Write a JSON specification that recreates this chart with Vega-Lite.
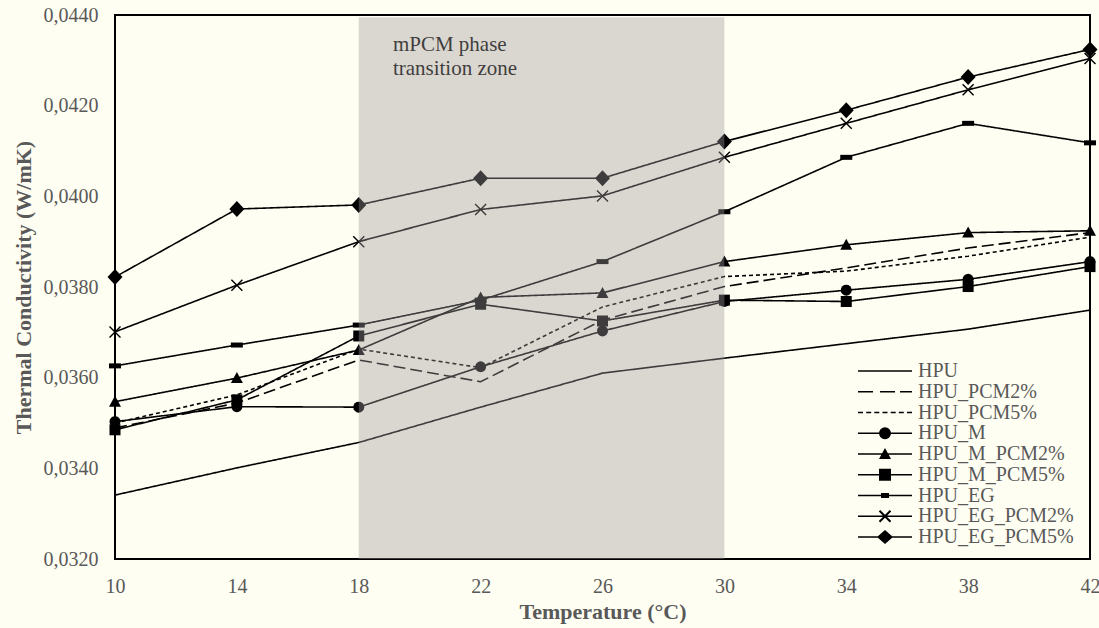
{
  "$schema": "https://vega.github.io/schema/vega-lite/v6.json",
  "width": 975,
  "height": 544,
  "autosize": {"type": "none"},
  "padding": {"left": 115, "top": 15, "right": 9, "bottom": 69},
  "background": "#FFFEF2",
  "config": {
    "view": {"stroke": "black", "strokeWidth": 2},
    "font": "Liberation Serif",
    "axis": {
      "grid": false,
      "ticks": false,
      "domain": false,
      "labelFlush": false,
      "labelOverlap": false,
      "labelFont": "Liberation Serif",
      "labelFontSize": 20,
      "labelColor": "#595959",
      "labelPadding": 17,
      "titleFont": "Liberation Serif",
      "titleFontSize": 22,
      "titleFontWeight": "bold",
      "titleColor": "#595959"
    }
  },
  "datasets": {
    "series": [
      {"series": "HPU", "t": 10, "k": 0.03341}, {"series": "HPU", "t": 14, "k": 0.03401}, {"series": "HPU", "t": 18, "k": 0.03457}, {"series": "HPU", "t": 22, "k": 0.03535}, {"series": "HPU", "t": 26, "k": 0.0361}, {"series": "HPU", "t": 30, "k": 0.03643}, {"series": "HPU", "t": 34, "k": 0.03675}, {"series": "HPU", "t": 38, "k": 0.03707}, {"series": "HPU", "t": 42, "k": 0.03749},
      {"series": "HPU_PCM2%", "t": 10, "k": 0.03489}, {"series": "HPU_PCM2%", "t": 14, "k": 0.03544}, {"series": "HPU_PCM2%", "t": 18, "k": 0.03639}, {"series": "HPU_PCM2%", "t": 22, "k": 0.03591}, {"series": "HPU_PCM2%", "t": 26, "k": 0.03727}, {"series": "HPU_PCM2%", "t": 30, "k": 0.03801}, {"series": "HPU_PCM2%", "t": 34, "k": 0.03842}, {"series": "HPU_PCM2%", "t": 38, "k": 0.03886}, {"series": "HPU_PCM2%", "t": 42, "k": 0.0392},
      {"series": "HPU_PCM5%", "t": 10, "k": 0.035}, {"series": "HPU_PCM5%", "t": 14, "k": 0.03562}, {"series": "HPU_PCM5%", "t": 18, "k": 0.03663}, {"series": "HPU_PCM5%", "t": 22, "k": 0.03622}, {"series": "HPU_PCM5%", "t": 26, "k": 0.03756}, {"series": "HPU_PCM5%", "t": 30, "k": 0.03823}, {"series": "HPU_PCM5%", "t": 34, "k": 0.03835}, {"series": "HPU_PCM5%", "t": 38, "k": 0.03868}, {"series": "HPU_PCM5%", "t": 42, "k": 0.0391},
      {"series": "HPU_M", "t": 10, "k": 0.03503}, {"series": "HPU_M", "t": 14, "k": 0.03536}, {"series": "HPU_M", "t": 18, "k": 0.03535}, {"series": "HPU_M", "t": 22, "k": 0.03624}, {"series": "HPU_M", "t": 26, "k": 0.03703}, {"series": "HPU_M", "t": 30, "k": 0.03768}, {"series": "HPU_M", "t": 34, "k": 0.03793}, {"series": "HPU_M", "t": 38, "k": 0.03817}, {"series": "HPU_M", "t": 42, "k": 0.03856},
      {"series": "HPU_M_PCM2%", "t": 10, "k": 0.03547}, {"series": "HPU_M_PCM2%", "t": 14, "k": 0.03599}, {"series": "HPU_M_PCM2%", "t": 18, "k": 0.03661}, {"series": "HPU_M_PCM2%", "t": 22, "k": 0.03777}, {"series": "HPU_M_PCM2%", "t": 26, "k": 0.03787}, {"series": "HPU_M_PCM2%", "t": 30, "k": 0.03856}, {"series": "HPU_M_PCM2%", "t": 34, "k": 0.03893}, {"series": "HPU_M_PCM2%", "t": 38, "k": 0.0392}, {"series": "HPU_M_PCM2%", "t": 42, "k": 0.03924},
      {"series": "HPU_M_PCM5%", "t": 10, "k": 0.03485}, {"series": "HPU_M_PCM5%", "t": 14, "k": 0.03551}, {"series": "HPU_M_PCM5%", "t": 18, "k": 0.03692}, {"series": "HPU_M_PCM5%", "t": 22, "k": 0.03762}, {"series": "HPU_M_PCM5%", "t": 26, "k": 0.03725}, {"series": "HPU_M_PCM5%", "t": 30, "k": 0.03771}, {"series": "HPU_M_PCM5%", "t": 34, "k": 0.03768}, {"series": "HPU_M_PCM5%", "t": 38, "k": 0.03801}, {"series": "HPU_M_PCM5%", "t": 42, "k": 0.03845},
      {"series": "HPU_EG", "t": 10, "k": 0.03626}, {"series": "HPU_EG", "t": 14, "k": 0.03672}, {"series": "HPU_EG", "t": 18, "k": 0.03716}, {"series": "HPU_EG", "t": 22, "k": 0.03771}, {"series": "HPU_EG", "t": 26, "k": 0.03856}, {"series": "HPU_EG", "t": 30, "k": 0.03966}, {"series": "HPU_EG", "t": 34, "k": 0.04086}, {"series": "HPU_EG", "t": 38, "k": 0.04161}, {"series": "HPU_EG", "t": 42, "k": 0.04118},
      {"series": "HPU_EG_PCM2%", "t": 10, "k": 0.03701}, {"series": "HPU_EG_PCM2%", "t": 14, "k": 0.03804}, {"series": "HPU_EG_PCM2%", "t": 18, "k": 0.039}, {"series": "HPU_EG_PCM2%", "t": 22, "k": 0.03971}, {"series": "HPU_EG_PCM2%", "t": 26, "k": 0.04001}, {"series": "HPU_EG_PCM2%", "t": 30, "k": 0.04086}, {"series": "HPU_EG_PCM2%", "t": 34, "k": 0.04161}, {"series": "HPU_EG_PCM2%", "t": 38, "k": 0.04235}, {"series": "HPU_EG_PCM2%", "t": 42, "k": 0.04304},
      {"series": "HPU_EG_PCM5%", "t": 10, "k": 0.03822}, {"series": "HPU_EG_PCM5%", "t": 14, "k": 0.03972}, {"series": "HPU_EG_PCM5%", "t": 18, "k": 0.03981}, {"series": "HPU_EG_PCM5%", "t": 22, "k": 0.0404}, {"series": "HPU_EG_PCM5%", "t": 26, "k": 0.0404}, {"series": "HPU_EG_PCM5%", "t": 30, "k": 0.04121}, {"series": "HPU_EG_PCM5%", "t": 34, "k": 0.0419}, {"series": "HPU_EG_PCM5%", "t": 38, "k": 0.04263}, {"series": "HPU_EG_PCM5%", "t": 42, "k": 0.04324}
    ],
    "zone": [{"x0": 18, "x1": 30, "y0": 0.032, "y1": 0.04395}],
    "note": [
      {"t": 19.12, "k": 0.04334, "label": "mPCM phase"},
      {"t": 19.12, "k": 0.04281, "label": "transition zone"}
    ]
  },
  "layer": [
    {
      "data": {"name": "series"},
      "mark": {"type": "line", "color": "black", "strokeWidth": 1.6},
      "encoding": {
        "x": {
          "field": "t", "type": "quantitative",
          "scale": {"domain": [10, 42], "nice": false, "zero": false},
          "axis": {"title": "Temperature (°C)", "values": [10, 14, 18, 22, 26, 30, 34, 38, 42], "titlePadding": 5}
        },
        "y": {
          "field": "k", "type": "quantitative",
          "scale": {"domain": [0.032, 0.044], "nice": false, "zero": false},
          "axis": {
            "title": "Thermal Conductivity (W/mK)",
            "values": [0.032, 0.034, 0.036, 0.038, 0.04, 0.042, 0.044],
            "labelExpr": "replace(format(datum.value, '.4f'), '.', ',')",
            "titlePadding": 8
          }
        },
        "strokeDash": {
          "field": "series", "type": "nominal",
          "scale": {
            "domain": ["HPU", "HPU_PCM2%", "HPU_PCM5%", "HPU_M", "HPU_M_PCM2%", "HPU_M_PCM5%", "HPU_EG", "HPU_EG_PCM2%", "HPU_EG_PCM5%"],
            "range": [[1, 0], [12, 5], [4, 3], [1, 0], [1, 0], [1, 0], [1, 0], [1, 0], [1, 0]]
          },
          "legend": null
        },
        "order": {"field": "t", "type": "quantitative"}
      }
    },
    {
      "data": {"name": "series"},
      "transform": [{"filter": "indexof(['HPU', 'HPU_PCM2%', 'HPU_PCM5%'], datum.series) < 0"}],
      "mark": {"type": "point", "filled": true, "color": "black", "opacity": 1, "size": 100, "strokeWidth": 0},
      "encoding": {
        "x": {"field": "t", "type": "quantitative", "title": "Temperature (°C)"},
        "y": {"field": "k", "type": "quantitative", "title": "Thermal Conductivity (W/mK)"},
        "shape": {
          "field": "series", "type": "nominal",
          "scale": {
            "domain": ["HPU_M", "HPU_M_PCM2%", "HPU_M_PCM5%", "HPU_EG", "HPU_EG_PCM2%", "HPU_EG_PCM5%"],
            "range": [
              "M1.1,0L1.016,0.421L0.778,0.778L0.421,1.016L0,1.1L-0.421,1.016L-0.778,0.778L-1.016,0.421L-1.1,0L-1.016,-0.421L-0.778,-0.778L-0.421,-1.016L0,-1.1L0.421,-1.016L0.778,-0.778L1.016,-0.421Z",
              "M0,-1.2L1.2,1L-1.2,1Z",
              "M-1.1,-1.1H1.1V1.1H-1.1Z",
              "M-1.2,-0.5H1.2V0.5H-1.2Z",
              "M-1,-1.2L1.2,1L1,1.2L-1.2,-1ZM-1,1.2L-1.2,1L1,-1.2L1.2,-1Z",
              "M0,-1.6L1.5,0L0,1.6L-1.5,0Z"
            ]
          },
          "legend": null
        }
      }
    },
    {
      "data": {"name": "note"},
      "mark": {"type": "text", "align": "left", "baseline": "middle", "font": "Liberation Serif", "fontSize": 21, "color": "black"},
      "encoding": {
        "x": {"field": "t", "type": "quantitative", "title": "Temperature (°C)"},
        "y": {"field": "k", "type": "quantitative", "title": "Thermal Conductivity (W/mK)"},
        "text": {"field": "label"}
      }
    },
    {
      "data": {"name": "zone"},
      "mark": {"type": "rect", "fill": "#A09A9A", "opacity": 0.39},
      "encoding": {
        "x": {"field": "x0", "type": "quantitative", "title": "Temperature (°C)"},
        "x2": {"field": "x1"},
        "y": {"field": "y0", "type": "quantitative", "title": "Thermal Conductivity (W/mK)"},
        "y2": {"field": "y1"}
      }
    },
    {
      "data": {"name": "series"},
      "transform": [{"filter": "false"}],
      "mark": {"type": "point", "filled": true, "color": "black", "opacity": 1, "size": 400, "strokeWidth": 0},
      "encoding": {
        "x": {"field": "t", "type": "quantitative", "title": "Temperature (°C)"},
        "y": {"field": "k", "type": "quantitative", "title": "Thermal Conductivity (W/mK)"},
        "shape": {
          "field": "series", "type": "nominal",
          "scale": {
            "domain": ["HPU", "HPU_PCM2%", "HPU_PCM5%", "HPU_M", "HPU_M_PCM2%", "HPU_M_PCM5%", "HPU_EG", "HPU_EG_PCM2%", "HPU_EG_PCM5%"],
            "range": [
              "M-2.7,-0.08H2.7V0.08H-2.7Z",
              "M-2.7,-0.08H-1.2V0.08H-2.7ZM-0.5,-0.08H1V0.08H-0.5ZM1.5,-0.08H2.7V0.08H1.5Z",
              "M-2.7,-0.07H-2.2V0.07H-2.7ZM-1.88,-0.07H-1.38V0.07H-1.88ZM-1.07,-0.07H-0.57V0.07H-1.07ZM-0.25,-0.07H0.25V0.07H-0.25ZM0.57,-0.07H1.07V0.07H0.57ZM1.38,-0.07H1.88V0.07H1.38ZM2.2,-0.07H2.7V0.07H2.2Z",
              "M-2.7,-0.08H2.7V0.08H-2.7ZM0.6,0L0.554,0.23L0.424,0.424L0.23,0.554L0,0.6L-0.23,0.554L-0.424,0.424L-0.554,0.23L-0.6,0L-0.554,-0.23L-0.424,-0.424L-0.23,-0.554L0,-0.6L0.23,-0.554L0.424,-0.424L0.554,-0.23Z",
              "M-2.7,-0.08H2.7V0.08H-2.7ZM0,-0.6L0.6,0.5L-0.6,0.5Z",
              "M-2.7,-0.08H2.7V0.08H-2.7ZM-0.6,-0.6H0.6V0.6H-0.6Z",
              "M-2.7,-0.08H2.7V0.08H-2.7ZM-0.4,-0.25H0.4V0.25H-0.4Z",
              "M-2.7,-0.08H2.7V0.08H-2.7ZM-0.48,-0.62L0.62,0.48L0.48,0.62L-0.62,-0.48ZM-0.48,0.62L-0.62,0.48L0.48,-0.62L0.62,-0.48Z",
              "M-2.7,-0.08H2.7V0.08H-2.7ZM0,-0.7L0.8,0L0,0.7L-0.8,0Z"
            ]
          },
          "legend": {
            "title": null,
            "orient": "none",
            "legendX": 743,
            "legendY": 346,
            "symbolSize": 400,
            "symbolStrokeWidth": 0,
            "symbolOffset": 17,
            "labelOffset": 23,
            "rowPadding": 0.75,
            "labelFont": "Liberation Serif",
            "labelFontSize": 20,
            "labelColor": "#595959",
            "labelLimit": 300,
            "symbolFillColor": "black",
            "symbolOpacity": 1
          }
        }
      }
    }
  ],
  "resolve": {"scale": {"shape": "independent"}}
}
